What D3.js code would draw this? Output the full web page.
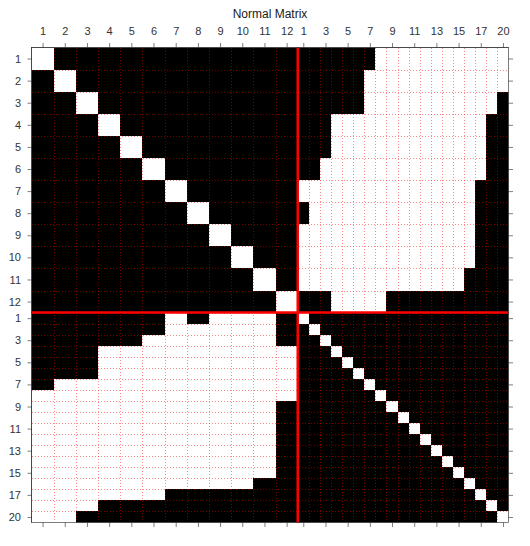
<!DOCTYPE html>
<html><head><meta charset="utf-8">
<script src="https://cdn.jsdelivr.net/npm/d3@7"></script>
<style>body{margin:0;background:#fff} text{font-family:"Liberation Sans",Arial,sans-serif}</style>
</head><body><svg id="c" width="530" height="546"></svg>
<script>
const title = "Normal Matrix";
const blockATickLabels = ["1","2","3","4","5","6","7","8","9","10","11","12"];
const blockBTickLabels = ["1","3","5","7","9","11","13","15","17","20"];
const blockBTickCells = [0,2,4,6,8,10,12,14,16,18];
const blockASize = 12;
const blockBSize = 19;
// 1 = white, 0 = black ; columns A1..A12 then B1..B19
const matrixRows = [
  "100000000000" + "0000000111111111111",
  "010000000000" + "0000001111111111111",
  "001000000000" + "0000001111111111110",
  "000100000000" + "0001111111111111100",
  "000010000000" + "0001111111111111100",
  "000001000000" + "0011111111111111100",
  "000000100000" + "1111111111111111000",
  "000000010000" + "0111111111111111000",
  "000000001000" + "1111111111111111000",
  "000000000100" + "1111111111111111000",
  "000000000010" + "1111111111111110000",
  "000000000001" + "0001111100000000000",
  "000000101110" + "1000000000000000000",
  "000000111110" + "0100000000000000000",
  "000001111110" + "0010000000000000000",
  "000111111111" + "0001000000000000000",
  "000111111111" + "0000100000000000000",
  "000111111111" + "0000010000000000000",
  "011111111111" + "0000001000000000000",
  "111111111111" + "0000000100000000000",
  "111111111110" + "0000000010000000000",
  "111111111110" + "0000000001000000000",
  "111111111110" + "0000000000100000000",
  "111111111110" + "0000000000010000000",
  "111111111110" + "0000000000001000000",
  "111111111110" + "0000000000000100000",
  "111111111110" + "0000000000000010000",
  "111111111100" + "0000000000000001000",
  "111111000000" + "0000000000000000100",
  "111000000000" + "0000000000000000010",
  "110000000000" + "0000000000000000001"
];

const totalUnits = 2*blockASize + blockBSize; // block A cells are twice as large
const L = 31.5, R = 508.5, T = 47.5, B = 522.5;
const x = d3.scaleLinear().domain([0, totalUnits]).range([L, R]);
const y = d3.scaleLinear().domain([0, totalUnits]).range([T, B]);
const cStart = i => i < blockASize ? 2*i : 2*blockASize + (i - blockASize);
const cEnd = i => i < blockASize ? 2*i + 2 : 2*blockASize + (i - blockASize) + 1;
const cMid = i => (cStart(i) + cEnd(i)) / 2;
const snap = v => Math.round(v) + 0.5;

const svg = d3.select("#c");

// background (black)
svg.append("rect").attr("x", L).attr("y", T).attr("width", R-L).attr("height", B-T).attr("fill", "#000");

// white cells
const cells = [];
matrixRows.forEach((row, r) => row.split("").forEach((v, c) => { if (v === "1") cells.push({r, c}); }));
svg.append("g").selectAll("rect").data(cells).join("rect")
  .attr("x", d => x(cStart(d.c))).attr("y", d => y(cStart(d.r)))
  .attr("width", d => x(cEnd(d.c)) - x(cStart(d.c)))
  .attr("height", d => y(cEnd(d.r)) - y(cStart(d.r)))
  .attr("fill", "#fff").attr("shape-rendering", "crispEdges");

// dotted grid on every cell boundary
const n = blockASize + blockBSize;
const bounds = d3.range(1, n).map(i => cStart(i));
const grid = svg.append("g").attr("stroke", "red").attr("stroke-opacity", 0.45)
  .attr("stroke-width", 1).attr("stroke-dasharray", "1,2");
grid.selectAll("line.v").data(bounds).join("line").attr("class", "v")
  .attr("x1", d => snap(x(d))).attr("x2", d => snap(x(d))).attr("y1", Math.ceil(T)).attr("y2", B);
grid.selectAll("line.h").data(bounds).join("line").attr("class", "h")
  .attr("y1", d => snap(y(d))).attr("y2", d => snap(y(d))).attr("x1", Math.ceil(L)).attr("x2", R);

// red block separators
const sep = cStart(blockASize);
svg.append("line").attr("x1", x(sep)).attr("x2", x(sep)).attr("y1", T).attr("y2", B)
  .attr("stroke", "red").attr("stroke-width", 2.5);
svg.append("line").attr("y1", y(sep)).attr("y2", y(sep)).attr("x1", L).attr("x2", R)
  .attr("stroke", "red").attr("stroke-width", 2.5);

// box
svg.append("rect").attr("x", L).attr("y", T).attr("width", R-L).attr("height", B-T)
  .attr("fill", "none").attr("stroke", "#262626").attr("stroke-width", 0.6);

// ticks
const tickVals = blockATickLabels.map((_, i) => cMid(i))
  .concat(blockBTickCells.map(j => cMid(blockASize + j)));
const tickLabs = blockATickLabels.concat(blockBTickLabels);
const fmt = (d, i) => tickLabs[i];
function style(g, labels) {
  g.select(".domain").remove();
  g.selectAll(".tick line").attr("stroke", "#262626").attr("stroke-width", 0.6);
  g.selectAll(".tick text").attr("fill", "#333").attr("font-size", 11)
    .attr("font-family", "Liberation Sans, Arial, sans-serif");
  if (!labels) g.selectAll(".tick text").remove();
}
svg.append("g").attr("transform", `translate(0,${T})`)
  .call(d3.axisTop(x).tickValues(tickVals).tickFormat(fmt).tickSize(4.5).tickPadding(8))
  .call(g => style(g, true));
svg.append("g").attr("transform", `translate(0,${B})`)
  .call(d3.axisBottom(x).tickValues(tickVals).tickSize(4.5))
  .call(g => style(g, false));
svg.append("g").attr("transform", `translate(${L},0)`)
  .call(d3.axisLeft(y).tickValues(tickVals).tickFormat(fmt).tickSize(4).tickPadding(6.5))
  .call(g => style(g, true));
svg.append("g").attr("transform", `translate(${R},0)`)
  .call(d3.axisRight(y).tickValues(tickVals).tickSize(4.5))
  .call(g => style(g, false));

// title
svg.append("text").attr("x", (L+R)/2).attr("y", 17.5).attr("text-anchor", "middle")
  .attr("font-size", 12).attr("fill", "#1a1a1a").text(title);
</script></body></html>
